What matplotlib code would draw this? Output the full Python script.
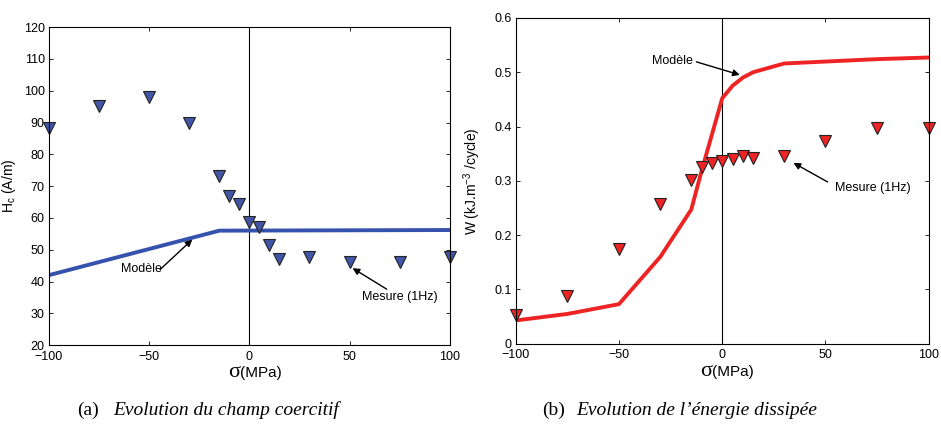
import matplotlib
matplotlib.use("Agg")
import matplotlib.pyplot as plt

plt.rcParams['font.family'] = ['Liberation Sans', 'DejaVu Sans']
plt.rcParams['font.size'] = 9
plt.rcParams['xtick.direction'] = 'in'
plt.rcParams['ytick.direction'] = 'in'
plt.rcParams['xtick.top'] = True
plt.rcParams['ytick.right'] = True

# (a) champ coercitif
sigma_mes = [-100, -75, -50, -30, -15, -10, -5, 0, 5, 10, 15, 30, 50, 75, 100]
hc_mes = [88.2, 95.3, 98.2, 90.0, 73.2, 67.0, 64.5, 58.8, 57.2, 51.5, 47.0, 47.7, 46.2, 46.0, 47.8]
sigma_mod_a = [-100, -15, 100]
hc_mod = [42.0, 56.0, 56.2]

# (b) energie dissipee
w_mes = [0.053, 0.088, 0.174, 0.258, 0.302, 0.325, 0.333, 0.337, 0.340, 0.345, 0.342, 0.345, 0.373, 0.398, 0.398]
sigma_mod_b = [-100, -75, -50, -30, -15, -10, -5, 0, 5, 10, 15, 30, 75, 100]
w_mod = [0.043, 0.055, 0.073, 0.160, 0.247, 0.318, 0.385, 0.452, 0.475, 0.490, 0.500, 0.516, 0.524, 0.527]

blue_line = '#3552ad'
blue_mark = '#4256a8'
red = '#ee2424'


def label_arrow(ax, text, text_xy, tail, head):
    ax.text(text_xy[0], text_xy[1], text, ha='center', va='center', fontsize=9)
    ax.annotate('', xy=head, xytext=tail,
                arrowprops=dict(arrowstyle='-|>', color='k', lw=1.0,
                                mutation_scale=10, shrinkA=0, shrinkB=0))


fig = plt.figure(figsize=(9.41, 4.25), dpi=100)
ax1 = fig.add_axes([0.052, 0.188, 0.426, 0.748])
ax2 = fig.add_axes([0.548, 0.191, 0.439, 0.767])

# left plot
ax1.axvline(0, color='k', lw=0.8)
ax1.plot(sigma_mod_a, hc_mod, color=blue_line, lw=2.8)
ax1.plot(sigma_mes, hc_mes, linestyle='none', marker='v', markersize=8.5,
         markerfacecolor=blue_mark, markeredgecolor='#222222', markeredgewidth=0.8,
         clip_on=False)
ax1.set_xlim(-100, 100)
ax1.set_ylim(20, 120)
ax1.set_xticks([-100, -50, 0, 50, 100])
ax1.set_yticks(range(20, 121, 10))
ax1.set_ylabel(r'H$_\mathregular{c}$ (A/m)', labelpad=4, fontsize=10)
label_arrow(ax1, 'Modèle', (-54, 44.0), (-44.5, 43.8), (-28.5, 53.2))
label_arrow(ax1, 'Mesure (1Hz)', (75, 35.1), (68.5, 37.6), (51.5, 44.2))

# right plot
ax2.axvline(0, color='k', lw=0.8)
ax2.plot(sigma_mod_b, w_mod, color=red, lw=2.8)
ax2.plot(sigma_mes, w_mes, linestyle='none', marker='v', markersize=8.5,
         markerfacecolor=red, markeredgecolor='#222222', markeredgewidth=0.8,
         clip_on=False)
ax2.set_xlim(-100, 100)
ax2.set_ylim(0, 0.6)
ax2.set_xticks([-100, -50, 0, 50, 100])
ax2.set_yticks([0, 0.1, 0.2, 0.3, 0.4, 0.5, 0.6])
ax2.set_yticklabels(['0', '0.1', '0.2', '0.3', '0.4', '0.5', '0.6'])
ax2.set_ylabel(r'W (kJ.m$^{\mathregular{-3}}$ /cycle)', labelpad=8, fontsize=10)
label_arrow(ax2, 'Modèle', (-24, 0.521), (-12.5, 0.519), (8.5, 0.495))
label_arrow(ax2, 'Mesure (1Hz)', (73, 0.287), (51, 0.298), (34.5, 0.333))

for ax in (ax1, ax2):
    ax.tick_params(length=3, width=0.6, labelsize=9, pad=3)
    ax.tick_params(axis='x', pad=4)
    for sp in ax.spines.values():
        sp.set_linewidth(0.8)
    ax.text(0.476, -0.1, 'σ', transform=ax.transAxes, ha='right', va='baseline',
            fontsize=16, family='Liberation Serif')
    ax.text(0.476, -0.1, '(MPa)', transform=ax.transAxes, ha='left', va='baseline',
            fontsize=11)

serif = ['Liberation Serif', 'DejaVu Serif']
fig.text(0.082, 0.035, '(a)', family=serif, fontsize=14, ha='left', va='center')
fig.text(0.120, 0.035, 'Evolution du champ coercitif', family=serif, style='italic',
         fontsize=14, ha='left', va='center')
fig.text(0.576, 0.035, '(b)', family=serif, fontsize=14, ha='left', va='center')
fig.text(0.612, 0.035, "Evolution de l\u2019énergie dissipée", family=serif, style='italic',
         fontsize=14, ha='left', va='center')

fig.savefig('out.png', dpi=100)
